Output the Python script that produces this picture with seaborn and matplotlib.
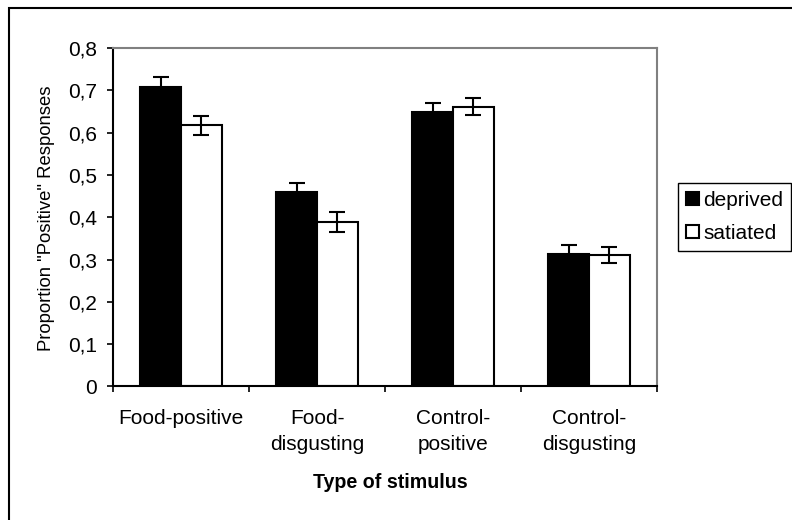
import numpy as np
import pandas as pd
import matplotlib
matplotlib.use("Agg")
import matplotlib.pyplot as plt
import seaborn as sns
from matplotlib.patches import Patch, Rectangle
from matplotlib.ticker import FuncFormatter

# Mean proportion of "positive" responses per stimulus type and hunger state
stimulus = ["Food-positive", "Food-\ndisgusting", "Control-\npositive", "Control-\ndisgusting"]
conditions = ["deprived", "satiated"]
deprived_mean = [0.708, 0.460, 0.649, 0.313]
satiated_mean = [0.617, 0.389, 0.661, 0.311]
deprived_err = [0.024, 0.022, 0.022, 0.021]
satiated_err = [0.022, 0.023, 0.020, 0.019]
y_ticks = [0.0, 0.1, 0.2, 0.3, 0.4, 0.5, 0.6, 0.7, 0.8]

df = pd.DataFrame({
    "stimulus": stimulus * 2,
    "condition": [conditions[0]] * len(stimulus) + [conditions[1]] * len(stimulus),
    "proportion": deprived_mean + satiated_mean,
})
errors = {conditions[0]: deprived_err, conditions[1]: satiated_err}

sns.set_theme(style="white", rc={
    "text.color": "black", "axes.labelcolor": "black",
    "xtick.color": "black", "ytick.color": "black",
})
plt.rcParams["font.family"] = ["Liberation Sans", "DejaVu Sans"]

W, H = 792, 520
fig = plt.figure(figsize=(W / 100, H / 100), dpi=100)
ax = fig.add_axes([113 / W, 1 - 386.4 / H, 544 / W, (386.4 - 48) / H])

sns.barplot(
    data=df, x="stimulus", y="proportion", hue="condition",
    order=stimulus, hue_order=conditions,
    palette={"deprived": "black", "satiated": "white"},
    edgecolor="black", linewidth=1.5, width=0.6,
    errorbar=None, legend=False, ax=ax,
)

# standard-error whiskers on top of each bar
for cond, container in zip(conditions, ax.containers):
    for bar, err in zip(container, errors[cond]):
        x = bar.get_x() + bar.get_width() / 2
        ax.errorbar(x, bar.get_height(), yerr=err, fmt="none", ecolor="black",
                    elinewidth=1.5, capsize=5.5, capthick=1.5, zorder=4)

fs = 15
ax.set_xlim(-0.5, len(stimulus) - 0.5)
ax.set_ylim(0, 0.8)
ax.set_yticks(y_ticks)
ax.yaxis.set_major_formatter(FuncFormatter(
    lambda v, _: "0" if abs(v) < 1e-9 else f"{v:.1f}".replace(".", ",")))
ax.tick_params(axis="y", left=True, length=4.3, width=1.2, direction="out",
               pad=7, labelsize=fs)

bounds = np.arange(-0.5, len(stimulus), 1.0)
ax.set_xticks(bounds, labels=[""] * len(bounds))
ax.set_xticks(range(len(stimulus)), labels=stimulus, minor=True)
ax.tick_params(axis="x", which="major", bottom=True, length=4.3, width=1.2,
               direction="out")
ax.tick_params(axis="x", which="minor", bottom=True, length=0, pad=16.5,
               labelsize=fs)
for lbl in ax.get_xticklabels(minor=True):
    lbl.set_linespacing(1.42)

for side in ("left", "bottom"):
    ax.spines[side].set_color("black")
    ax.spines[side].set_linewidth(1.5)
for side in ("top", "right"):
    ax.spines[side].set_color("#808080")
    ax.spines[side].set_linewidth(1.5)

ax.set_ylabel('Proportion "Positive" Responses', fontsize=13.3)
ax.yaxis.label.set(va="center", ha="center", rotation_mode="anchor")
ax.yaxis.set_label_coords((47 - 113) / 544, (386.4 - 218) / 338.4)
ax.set_xlabel("Type of stimulus", fontsize=14.1, fontweight="bold")
ax.xaxis.label.set(va="center")
ax.xaxis.set_label_coords((390 - 113) / 544, (386.4 - 483) / 338.4)

handles = [Patch(facecolor="black", edgecolor="black", linewidth=1.5),
           Patch(facecolor="white", edgecolor="black", linewidth=1.5)]
leg = fig.legend(handles, conditions, loc="upper left",
                 bbox_to_anchor=(678 / W, 1 - 183 / H), fontsize=fs,
                 frameon=True, fancybox=False, edgecolor="black",
                 framealpha=1, handlelength=0.62, handleheight=0.62,
                 handletextpad=0.24, borderpad=0.37, labelspacing=0.68,
                 borderaxespad=0)
leg.get_frame().set_linewidth(1.0)

# outer chart frame
fig.patches.append(Rectangle((9 / W, -0.5), 2, 0.5 + 1 - 8 / H,
                             transform=fig.transFigure, fill=False,
                             edgecolor="black", linewidth=1.5))

fig.savefig("out.png", dpi=100)
